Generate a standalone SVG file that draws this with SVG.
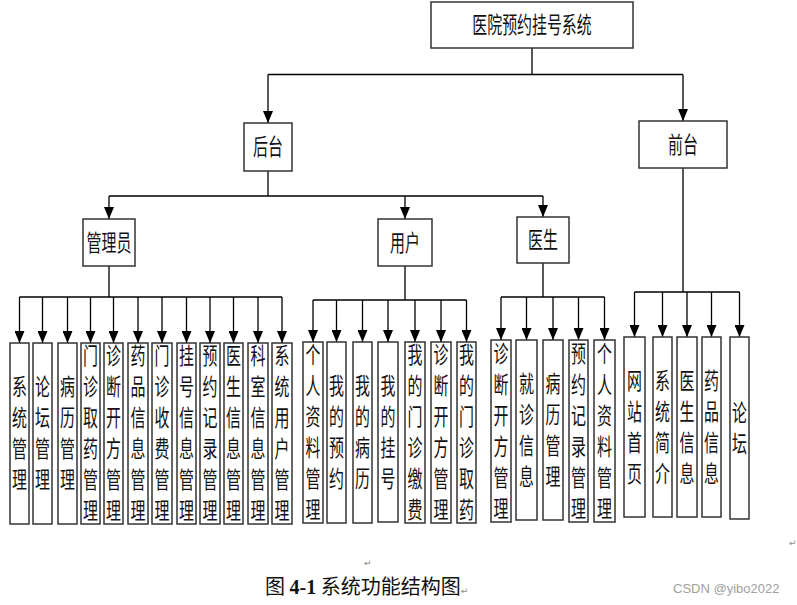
<svg xmlns="http://www.w3.org/2000/svg" width="797" height="605" viewBox="0 0 797 605">
<style>
rect.b{fill:#fff;stroke:#333;stroke-width:1.5}
.c path{fill:none;stroke:#000;stroke-width:1.3}
.c path.a{marker-end:url(#ah)}
text{font-family:"Noto Sans CJK SC","Noto Sans CJK JP",sans-serif;fill:#111}
text.v{font-size:23px;text-anchor:middle}
text.m{font-size:23px;text-anchor:middle}
text.cap{font-size:20px}
text.pm{font-family:"DejaVu Sans",sans-serif;font-size:9px;fill:#888}
text.wm{font-family:"Liberation Sans",Arial,sans-serif;font-size:13px;fill:#a0a0a0}
</style>
<defs>
<marker id="ah" markerUnits="userSpaceOnUse" markerWidth="12" markerHeight="10" viewBox="0 0 12 10" refX="12" refY="5" orient="auto">
<path d="M0,0 L12,5 L0,10 z" fill="#000"/>
</marker>
</defs>
<rect width="797" height="605" fill="#fff"/>

<g class="c" id="connectors">
<path d="M532,48 V74.5 M268,74.5 H683"/>
<path class="a" d="M268,74.5 V123"/>
<path class="a" d="M683,74.5 V121"/>
<path d="M268,171 V196 M109,196 H543"/>
<path class="a" d="M109,196 V219"/>
<path class="a" d="M405,196 V219"/>
<path class="a" d="M543,196 V217"/>
<path d="M109,266 V297 M19.5,297 H282"/>
<path class="a" d="M19.5,297 V343"/>
<path class="a" d="M42.5,297 V343"/>
<path class="a" d="M67.5,297 V343"/>
<path class="a" d="M90.5,297 V343"/>
<path class="a" d="M113.5,297 V343"/>
<path class="a" d="M138,297 V343"/>
<path class="a" d="M162,297 V343"/>
<path class="a" d="M186.5,297 V343"/>
<path class="a" d="M210,297 V343"/>
<path class="a" d="M233.5,297 V343"/>
<path class="a" d="M258,297 V343"/>
<path class="a" d="M282,297 V343"/>
<path d="M405,266 V300 M313,300 H466.5"/>
<path class="a" d="M313,300 V342"/>
<path class="a" d="M336.5,300 V342"/>
<path class="a" d="M362.5,300 V342"/>
<path class="a" d="M388,300 V342"/>
<path class="a" d="M415,300 V342"/>
<path class="a" d="M441,300 V342"/>
<path class="a" d="M466.5,300 V342"/>
<path d="M543,263 V297 M501,297 H604.5"/>
<path class="a" d="M501,297 V340"/>
<path class="a" d="M526.5,297 V340"/>
<path class="a" d="M553,297 V340"/>
<path class="a" d="M578.5,297 V340"/>
<path class="a" d="M604.5,297 V340"/>
<path d="M683,168 V292 M634.5,292 H739.5"/>
<path class="a" d="M634.5,292 V337"/>
<path class="a" d="M662.5,292 V337"/>
<path class="a" d="M687,292 V337"/>
<path class="a" d="M711.5,292 V337"/>
<path class="a" d="M739.5,292 V337"/>
</g>

<g id="n-root"><rect class="b" x="431" y="2" width="202" height="46"/><text class="m" transform="translate(532,33) scale(0.65,1)" x="0" y="0">医院预约挂号系统</text></g>
<g id="n-houtai"><rect class="b" x="244" y="123" width="48" height="48"/><text class="m" transform="translate(268,155) scale(0.65,1)" x="0" y="0">后台</text></g>
<g id="n-qiantai"><rect class="b" x="639" y="121" width="88" height="47"/><text class="m" transform="translate(683,153) scale(0.65,1)" x="0" y="0">前台</text></g>
<g id="n-admin"><rect class="b" x="83" y="219" width="52" height="47"/><text class="m" transform="translate(109,251) scale(0.65,1)" x="0" y="0">管理员</text></g>
<g id="n-user"><rect class="b" x="378" y="219" width="54" height="47"/><text class="m" transform="translate(405,251) scale(0.65,1)" x="0" y="0">用户</text></g>
<g id="n-doctor"><rect class="b" x="517" y="217" width="52" height="46"/><text class="m" transform="translate(543,248) scale(0.65,1)" x="0" y="0">医生</text></g>

<!-- admin leaves -->
<g id="a1"><rect class="b" x="10" y="343" width="19" height="181"/><text class="v" transform="translate(19.5,0) scale(0.65,1)"><tspan x="0" y="395">系</tspan><tspan x="0" y="426">统</tspan><tspan x="0" y="457">管</tspan><tspan x="0" y="488">理</tspan></text></g>
<g id="a2"><rect class="b" x="33" y="343" width="19" height="181"/><text class="v" transform="translate(42.5,0) scale(0.65,1)"><tspan x="0" y="395">论</tspan><tspan x="0" y="426">坛</tspan><tspan x="0" y="457">管</tspan><tspan x="0" y="488">理</tspan></text></g>
<g id="a3"><rect class="b" x="58" y="343" width="19" height="181"/><text class="v" transform="translate(67.5,0) scale(0.65,1)"><tspan x="0" y="395">病</tspan><tspan x="0" y="426">历</tspan><tspan x="0" y="457">管</tspan><tspan x="0" y="488">理</tspan></text></g>
<g id="a4"><rect class="b" x="81" y="343" width="19" height="181"/><text class="v" transform="translate(90.5,0) scale(0.65,1)"><tspan x="0" y="364">门</tspan><tspan x="0" y="395">诊</tspan><tspan x="0" y="426">取</tspan><tspan x="0" y="457">药</tspan><tspan x="0" y="488">管</tspan><tspan x="0" y="519">理</tspan></text></g>
<g id="a5"><rect class="b" x="104" y="343" width="19" height="181"/><text class="v" transform="translate(113.5,0) scale(0.65,1)"><tspan x="0" y="364">诊</tspan><tspan x="0" y="395">断</tspan><tspan x="0" y="426">开</tspan><tspan x="0" y="457">方</tspan><tspan x="0" y="488">管</tspan><tspan x="0" y="519">理</tspan></text></g>
<g id="a6"><rect class="b" x="128" y="343" width="20" height="181"/><text class="v" transform="translate(138,0) scale(0.65,1)"><tspan x="0" y="364">药</tspan><tspan x="0" y="395">品</tspan><tspan x="0" y="426">信</tspan><tspan x="0" y="457">息</tspan><tspan x="0" y="488">管</tspan><tspan x="0" y="519">理</tspan></text></g>
<g id="a7"><rect class="b" x="152" y="343" width="20" height="181"/><text class="v" transform="translate(162,0) scale(0.65,1)"><tspan x="0" y="364">门</tspan><tspan x="0" y="395">诊</tspan><tspan x="0" y="426">收</tspan><tspan x="0" y="457">费</tspan><tspan x="0" y="488">管</tspan><tspan x="0" y="519">理</tspan></text></g>
<g id="a8"><rect class="b" x="177" y="343" width="19" height="181"/><text class="v" transform="translate(186.5,0) scale(0.65,1)"><tspan x="0" y="364">挂</tspan><tspan x="0" y="395">号</tspan><tspan x="0" y="426">信</tspan><tspan x="0" y="457">息</tspan><tspan x="0" y="488">管</tspan><tspan x="0" y="519">理</tspan></text></g>
<g id="a9"><rect class="b" x="200" y="343" width="20" height="181"/><text class="v" transform="translate(210,0) scale(0.65,1)"><tspan x="0" y="364">预</tspan><tspan x="0" y="395">约</tspan><tspan x="0" y="426">记</tspan><tspan x="0" y="457">录</tspan><tspan x="0" y="488">管</tspan><tspan x="0" y="519">理</tspan></text></g>
<g id="a10"><rect class="b" x="224" y="343" width="19" height="181"/><text class="v" transform="translate(233.5,0) scale(0.65,1)"><tspan x="0" y="364">医</tspan><tspan x="0" y="395">生</tspan><tspan x="0" y="426">信</tspan><tspan x="0" y="457">息</tspan><tspan x="0" y="488">管</tspan><tspan x="0" y="519">理</tspan></text></g>
<g id="a11"><rect class="b" x="248" y="343" width="20" height="181"/><text class="v" transform="translate(258,0) scale(0.65,1)"><tspan x="0" y="364">科</tspan><tspan x="0" y="395">室</tspan><tspan x="0" y="426">信</tspan><tspan x="0" y="457">息</tspan><tspan x="0" y="488">管</tspan><tspan x="0" y="519">理</tspan></text></g>
<g id="a12"><rect class="b" x="272" y="343" width="20" height="181"/><text class="v" transform="translate(282,0) scale(0.65,1)"><tspan x="0" y="364">系</tspan><tspan x="0" y="395">统</tspan><tspan x="0" y="426">用</tspan><tspan x="0" y="457">户</tspan><tspan x="0" y="488">管</tspan><tspan x="0" y="519">理</tspan></text></g>

<!-- user leaves -->
<g id="u1"><rect class="b" x="303" y="342" width="20" height="181"/><text class="v" transform="translate(313,0) scale(0.65,1)"><tspan x="0" y="363">个</tspan><tspan x="0" y="394">人</tspan><tspan x="0" y="425">资</tspan><tspan x="0" y="456">料</tspan><tspan x="0" y="487">管</tspan><tspan x="0" y="518">理</tspan></text></g>
<g id="u2"><rect class="b" x="327" y="342" width="19" height="181"/><text class="v" transform="translate(336.5,0) scale(0.65,1)"><tspan x="0" y="394">我</tspan><tspan x="0" y="425">的</tspan><tspan x="0" y="456">预</tspan><tspan x="0" y="487">约</tspan></text></g>
<g id="u3"><rect class="b" x="353" y="342" width="19" height="181"/><text class="v" transform="translate(362.5,0) scale(0.65,1)"><tspan x="0" y="394">我</tspan><tspan x="0" y="425">的</tspan><tspan x="0" y="456">病</tspan><tspan x="0" y="487">历</tspan></text></g>
<g id="u4"><rect class="b" x="378" y="342" width="20" height="180"/><text class="v" transform="translate(388,0) scale(0.65,1)"><tspan x="0" y="394">我</tspan><tspan x="0" y="425">的</tspan><tspan x="0" y="456">挂</tspan><tspan x="0" y="487">号</tspan></text></g>
<g id="u5"><rect class="b" x="405" y="342" width="20" height="181"/><text class="v" transform="translate(415,0) scale(0.65,1)"><tspan x="0" y="363">我</tspan><tspan x="0" y="394">的</tspan><tspan x="0" y="425">门</tspan><tspan x="0" y="456">诊</tspan><tspan x="0" y="487">缴</tspan><tspan x="0" y="518">费</tspan></text></g>
<g id="u6"><rect class="b" x="431" y="342" width="20" height="181"/><text class="v" transform="translate(441,0) scale(0.65,1)"><tspan x="0" y="363">诊</tspan><tspan x="0" y="394">断</tspan><tspan x="0" y="425">开</tspan><tspan x="0" y="456">方</tspan><tspan x="0" y="487">管</tspan><tspan x="0" y="518">理</tspan></text></g>
<g id="u7"><rect class="b" x="457" y="342" width="19" height="181"/><text class="v" transform="translate(466.5,0) scale(0.65,1)"><tspan x="0" y="363">我</tspan><tspan x="0" y="394">的</tspan><tspan x="0" y="425">门</tspan><tspan x="0" y="456">诊</tspan><tspan x="0" y="487">取</tspan><tspan x="0" y="518">药</tspan></text></g>

<!-- doctor leaves -->
<g id="d1"><rect class="b" x="491" y="340" width="20" height="182"/><text class="v" transform="translate(501,0) scale(0.65,1)"><tspan x="0" y="362">诊</tspan><tspan x="0" y="393">断</tspan><tspan x="0" y="424">开</tspan><tspan x="0" y="455">方</tspan><tspan x="0" y="486">管</tspan><tspan x="0" y="517">理</tspan></text></g>
<g id="d2"><rect class="b" x="516" y="340" width="21" height="180"/><text class="v" transform="translate(526.5,0) scale(0.65,1)"><tspan x="0" y="392">就</tspan><tspan x="0" y="423">诊</tspan><tspan x="0" y="454">信</tspan><tspan x="0" y="485">息</tspan></text></g>
<g id="d3"><rect class="b" x="543" y="340" width="20" height="180"/><text class="v" transform="translate(553,0) scale(0.65,1)"><tspan x="0" y="392">病</tspan><tspan x="0" y="423">历</tspan><tspan x="0" y="454">管</tspan><tspan x="0" y="485">理</tspan></text></g>
<g id="d4"><rect class="b" x="569" y="340" width="19" height="182"/><text class="v" transform="translate(578.5,0) scale(0.65,1)"><tspan x="0" y="362">预</tspan><tspan x="0" y="393">约</tspan><tspan x="0" y="424">记</tspan><tspan x="0" y="455">录</tspan><tspan x="0" y="486">管</tspan><tspan x="0" y="517">理</tspan></text></g>
<g id="d5"><rect class="b" x="594" y="340" width="21" height="182"/><text class="v" transform="translate(604.5,0) scale(0.65,1)"><tspan x="0" y="362">个</tspan><tspan x="0" y="393">人</tspan><tspan x="0" y="424">资</tspan><tspan x="0" y="455">料</tspan><tspan x="0" y="486">管</tspan><tspan x="0" y="517">理</tspan></text></g>

<!-- front leaves -->
<g id="f1"><rect class="b" x="624" y="337" width="21" height="180"/><text class="v" transform="translate(634.5,0) scale(0.65,1)"><tspan x="0" y="389">网</tspan><tspan x="0" y="420">站</tspan><tspan x="0" y="451">首</tspan><tspan x="0" y="482">页</tspan></text></g>
<g id="f2"><rect class="b" x="653" y="337" width="19" height="180"/><text class="v" transform="translate(662.5,0) scale(0.65,1)"><tspan x="0" y="389">系</tspan><tspan x="0" y="420">统</tspan><tspan x="0" y="451">简</tspan><tspan x="0" y="482">介</tspan></text></g>
<g id="f3"><rect class="b" x="677" y="337" width="20" height="180"/><text class="v" transform="translate(687,0) scale(0.65,1)"><tspan x="0" y="389">医</tspan><tspan x="0" y="420">生</tspan><tspan x="0" y="451">信</tspan><tspan x="0" y="482">息</tspan></text></g>
<g id="f4"><rect class="b" x="702" y="337" width="19" height="180"/><text class="v" transform="translate(711.5,0) scale(0.65,1)"><tspan x="0" y="389">药</tspan><tspan x="0" y="420">品</tspan><tspan x="0" y="451">信</tspan><tspan x="0" y="482">息</tspan></text></g>
<g id="f5"><rect class="b" x="730" y="337" width="19" height="182"/><text class="v" transform="translate(739.5,0) scale(0.65,1)"><tspan x="0" y="421">论</tspan><tspan x="0" y="452">坛</tspan></text></g>

<text class="pm" x="364" y="566">↵</text>
<text class="pm" x="789" y="546">↵</text>
<text class="cap" x="265" y="594">图 <tspan font-family="Liberation Serif" font-weight="bold">4-1</tspan> 系统功能结构图<tspan class="pm" font-family="DejaVu Sans" font-size="9px" fill="#888">↵</tspan></text>
<text class="wm" x="673" y="593">CSDN @yibo2022</text>
</svg>
